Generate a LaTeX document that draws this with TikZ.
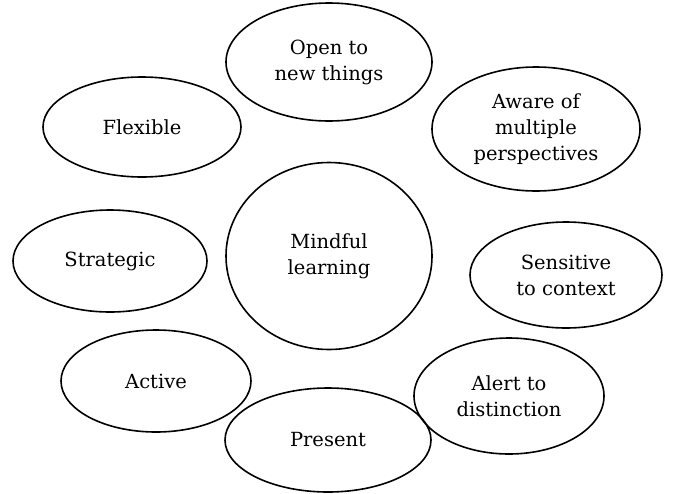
\documentclass[tikz,border=0pt]{standalone}
\usepackage{fontspec}
\setmainfont{DejaVu Serif}
\usetikzlibrary{shapes.geometric}

\begin{document}
\begin{tikzpicture}[x=1pt,y=1pt,
  every node/.style={draw,ellipse,line width=1.6pt,color=black,align=center,inner sep=0pt,
    font=\fontsize{19.5}{26}\selectfont}]
\useasboundingbox (0,0) rectangle (685,-493);
\node[minimum width=206,minimum height=187](mind) at (329,-256) {Mindful\\learning};

\node[minimum width=206,minimum height=118](open) at (329,-62) {Open to\\new things};
\node[minimum width=198,minimum height=100](flex) at (142,-127) {Flexible};
\node[minimum width=208,minimum height=124](aware) at (536,-129) {Aware of\\multiple\\perspectives};
\node[minimum width=194,minimum height=102](strat) at (110,-261) {Strategic};
\node[minimum width=192,minimum height=106](sens) at (566,-275) {Sensitive\\to context};
\node[minimum width=190,minimum height=102](act) at (156,-381) {Active};
\node[minimum width=190,minimum height=116](alert) at (509,-396) {Alert to\\distinction};
\node[minimum width=206,minimum height=104](pres) at (328,-440) {Present};
\end{tikzpicture}
\end{document}
